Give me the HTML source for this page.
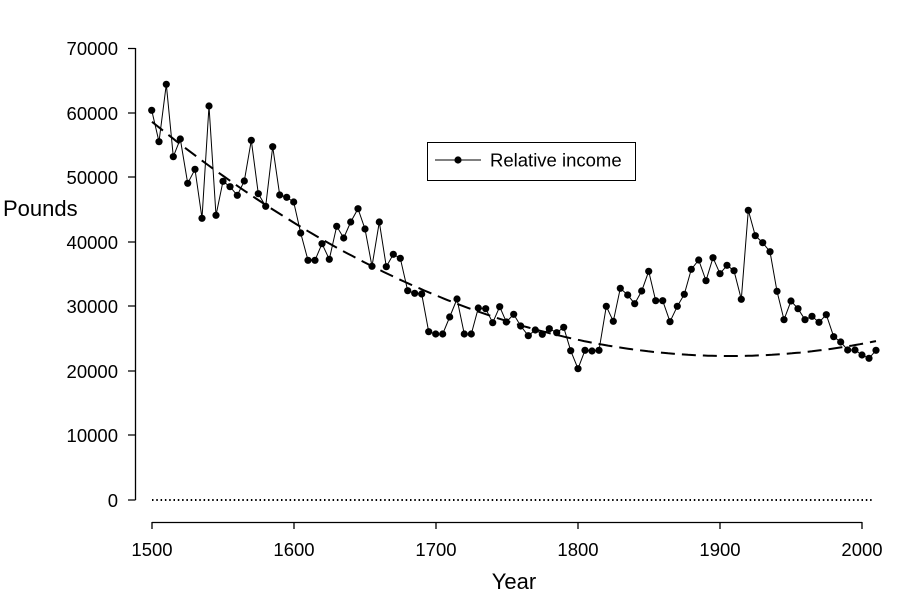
<!DOCTYPE html>
<html><head><meta charset="utf-8"><style>body{margin:0;background:#fff}svg{display:block}</style></head><body>
<svg id="s" width="901" height="599" xmlns="http://www.w3.org/2000/svg" font-family="Liberation Sans, sans-serif">
<rect width="901" height="599" fill="#fff"/>
<g stroke="#000" stroke-width="1.3" fill="none">
<path d="M135.5 48V500M128 48.5H135.5M128 113H135.5M128 177H135.5M128 242H135.5M128 306H135.5M128 371H135.5M128 435H135.5M128 500H135.5"/>
<path d="M152 522.5H862M152 522V529M294 522V529M436 522V529M578 522V529M720 522V529M862 522V529"/>
</g>
<line x1="152" y1="500" x2="872" y2="500" stroke="#000" stroke-width="2" stroke-dasharray="1.5,2.8"/>
<g font-size="18.5" text-anchor="end" fill="#000">
<text x="118" y="55">70000</text><text x="118" y="120">60000</text><text x="118" y="184">50000</text><text x="118" y="249">40000</text><text x="118" y="313">30000</text><text x="118" y="378">20000</text><text x="118" y="442">10000</text><text x="118" y="507">0</text>
</g>
<g font-size="18.5" text-anchor="middle">
<text x="152" y="556">1500</text><text x="294" y="556">1600</text><text x="436" y="556">1700</text><text x="578" y="556">1800</text><text x="720" y="556">1900</text><text x="862" y="556">2000</text>
</g>
<text x="514" y="589" font-size="22" text-anchor="middle">Year</text>
<text x="3" y="216" font-size="22">Pounds</text>
<path id="trend" d="" fill="none" stroke="#000" stroke-width="2" stroke-dasharray="14,7"/>
<polyline id="data" fill="none" stroke="#000" stroke-width="1" points=""/>
<g id="marks">
</g>
<rect x="427.5" y="142.5" width="208" height="38" fill="#fff" stroke="#000" stroke-width="1"/>
<line x1="435" y1="160" x2="481" y2="160" stroke="#000" stroke-width="1"/>
<circle cx="458" cy="160" r="3.6"/>
<text x="490" y="166.5" font-size="18.5">Relative income</text>
<script>
var p=[[151.7,110.3],[159,141.7],[166.3,84.3],[173.3,156.7],[180.3,139],[187.7,183.3],[195,169.3],[202,218.3],[209,106],[216,215.3],[223,181.3],[230,186.7],[237.3,195.3],[244.3,181],[251.3,140.3],[258.3,193.7],[265.7,206.3],[272.7,146.7],[279.7,195],[286.7,197.3],[293.7,202],[300.7,233],[308,260.3],[315,260.3],[322,243.7],[329.3,259.3],[336.7,226.3],[343.7,238],[350.7,222],[358,208.7],[365,229],[372,266.3],[379.3,222],[386.3,266.7],[393.3,254.3],[400.3,258.3],[407.7,290.7],[414.7,293.3],[421.7,294],[428.7,331.7],[435.7,334],[442.7,334],[449.7,317],[457,299],[464.3,334],[471.3,334],[478.3,308],[485.7,308.7],[492.7,322.7],[499.7,306.7],[506.3,322],[513.7,314.3],[520.7,326],[528.3,335.7],[535.3,330],[542.3,334.3],[549.3,328.7],[556.7,332.7],[563.7,327.3],[570.7,350.7],[578,368.7],[585,350.3],[592,351],[599,350.3],[606.3,306.3],[613.3,321.3],[620.3,288.3],[627.7,295],[634.7,303.7],[641.7,291],[648.7,271.3],[655.7,300.7],[662.7,300.7],[670,321.7],[677.3,306.3],[684.3,294.3],[691.3,269.3],[698.7,260],[706,280.7],[713,257.7],[720,273.7],[727,265.3],[734,270.7],[741.3,299.3],[748.3,210.3],[755.3,235.7],[762.7,242.7],[770,251.7],[777,291.3],[784,319.7],[791,301],[798,308.7],[805,319.7],[812,316.3],[819,322.3],[826.3,314.7],[833.7,336.7],[840.7,342],[847.7,350],[855,350],[862,355],[869,358.3],[876,350.3]];
document.getElementById('data').setAttribute('points',p.map(function(a){return a.join(',')}).join(' '));
var g=document.getElementById('marks'),NS='http://www.w3.org/2000/svg';
p.forEach(function(a){var c=document.createElementNS(NS,'circle');c.setAttribute('cx',a[0]);c.setAttribute('cy',a[1]);c.setAttribute('r','3.6');g.appendChild(c);});
var d='';for(var x=152;x<=876;x+=4){var y=356-0.000701*(x-730)*(x-730);d+=(x==152?'M':'L')+x+' '+y.toFixed(1);}
document.getElementById('trend').setAttribute('d',d);
</script>
</svg>
</body></html>
